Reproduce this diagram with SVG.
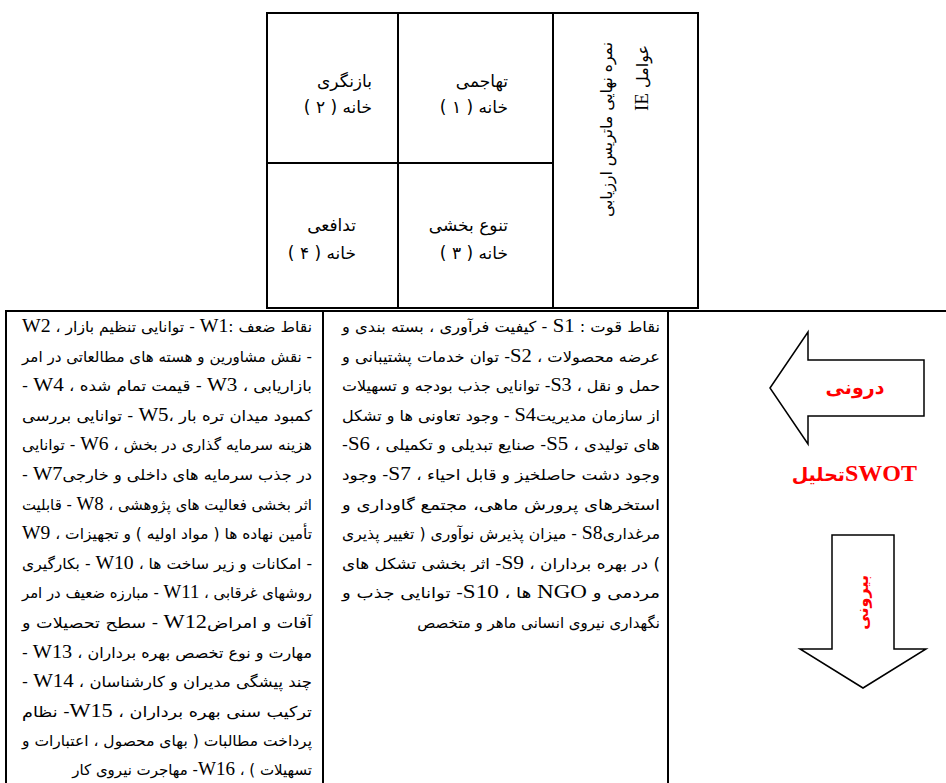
<svg xmlns="http://www.w3.org/2000/svg" width="946" height="783" viewBox="0 0 946 783">
<defs>
<style>
.b{fill:none;stroke:#000;stroke-width:2}
.ar{fill:#fff;stroke:#000;stroke-width:1.5}
.t{font-family:'DejaVu Sans','Noto Sans',sans-serif;font-size:15px;fill:#000;direction:rtl;text-anchor:start}
.c{font-family:'DejaVu Sans','Noto Sans',sans-serif;font-size:17px;fill:#000;direction:rtl;text-anchor:start}
.v{font-family:'DejaVu Sans','Noto Sans',sans-serif;font-size:16px;fill:#000;direction:rtl;text-anchor:start}
.l{font-family:'Liberation Serif',serif;font-size:19px}
.r{font-family:'DejaVu Sans','Noto Sans',sans-serif;font-weight:bold;fill:#f00;direction:rtl;text-anchor:start}
</style>
</defs>
<rect width="946" height="783" fill="#fff"/>

<g id="matrix">
  <rect class="b" x="267" y="13" width="431" height="295"/>
  <line class="b" x1="398" y1="13" x2="398" y2="308"/>
  <line class="b" x1="553" y1="13" x2="553" y2="308"/>
  <line class="b" x1="267" y1="163" x2="553" y2="163"/>
  <g id="cell-1">
    <text class="c" x="508" y="87">تهاجمی</text>
    <text class="c" x="508" y="113">خانه ( ۱ )</text>
  </g>
  <g id="cell-2">
    <text class="c" x="372" y="87">بازنگری</text>
    <text class="c" x="372" y="113">خانه ( ۲ )</text>
  </g>
  <g id="cell-3">
    <text class="c" x="508" y="231">تنوع بخشی</text>
    <text class="c" x="508" y="259">خانه ( ۳ )</text>
  </g>
  <g id="cell-4">
    <text class="c" x="356" y="231">تدافعی</text>
    <text class="c" x="356" y="259">خانه ( ۴ )</text>
  </g>
  <g id="ie-label">
    <text class="v" transform="translate(612,42) rotate(-90)" textLength="175" lengthAdjust="spacingAndGlyphs">نمره نهایی ماتریس ارزیابی</text>
    <text class="v" transform="translate(648,45) rotate(-90)">عوامل <tspan class="l" font-size="21">IE</tspan></text>
  </g>
</g>

<g id="swot-table">
  <line class="b" x1="5" y1="311" x2="946" y2="311"/>
  <line class="b" x1="6" y1="310" x2="6" y2="783"/>
  <line class="b" x1="323" y1="311" x2="323" y2="783"/>
  <line class="b" x1="668" y1="311" x2="668" y2="783"/>
</g>

<g id="weaknesses">
  <text class="t" x="312" y="332" textLength="290" lengthAdjust="spacingAndGlyphs">نقاط ضعف :<tspan class="l">W1</tspan>  - توانایی تنظیم بازار ، <tspan class="l">W2</tspan></text>
  <text class="t" x="312" y="361.6" textLength="290" lengthAdjust="spacingAndGlyphs">- نقش مشاورین و هسته های مطالعاتی در امر</text>
  <text class="t" x="312" y="391.2" textLength="290" lengthAdjust="spacingAndGlyphs">بازاریابی ، <tspan class="l">W3</tspan> - قیمت تمام شده ، <tspan class="l">W4</tspan> -</text>
  <text class="t" x="312" y="420.8" textLength="290" lengthAdjust="spacingAndGlyphs">کمبود میدان تره بار ،<tspan class="l">W5</tspan>  - توانایی بررسی</text>
  <text class="t" x="312" y="450.4" textLength="290" lengthAdjust="spacingAndGlyphs">هزینه سرمایه گذاری در بخش ، <tspan class="l">W6</tspan> - توانایی</text>
  <text class="t" x="312" y="480" textLength="290" lengthAdjust="spacingAndGlyphs">در جذب سرمایه های داخلی و خارجی<tspan class="l">W7</tspan> -</text>
  <text class="t" x="312" y="509.6" textLength="290" lengthAdjust="spacingAndGlyphs">اثر بخشی فعالیت های پژوهشی ، <tspan class="l">W8</tspan> - قابلیت</text>
  <text class="t" x="312" y="539.2" textLength="290" lengthAdjust="spacingAndGlyphs">تأمین نهاده ها ( مواد اولیه ) و تجهیزات ، <tspan class="l">W9</tspan></text>
  <text class="t" x="312" y="568.8" textLength="290" lengthAdjust="spacingAndGlyphs">- امکانات و زیر ساخت ها ، <tspan class="l">W10</tspan> - بکارگیری</text>
  <text class="t" x="312" y="598.4" textLength="290" lengthAdjust="spacingAndGlyphs">روشهای غرقابی ، <tspan class="l">W11</tspan> - مبارزه ضعیف در امر</text>
  <text class="t" x="312" y="628" textLength="290" lengthAdjust="spacingAndGlyphs">آفات و امراض<tspan class="l">W12</tspan> - سطح تحصیلات و</text>
  <text class="t" x="312" y="657.6" textLength="290" lengthAdjust="spacingAndGlyphs">مهارت و نوع تخصص بهره برداران ، <tspan class="l">W13</tspan> -</text>
  <text class="t" x="312" y="687.2" textLength="290" lengthAdjust="spacingAndGlyphs">چند پیشگی مدیران و کارشناسان ، <tspan class="l">W14</tspan> -</text>
  <text class="t" x="312" y="716.8" textLength="290" lengthAdjust="spacingAndGlyphs">ترکیب سنی بهره برداران ، <tspan class="l">W15</tspan>- نظام</text>
  <text class="t" x="312" y="746.4" textLength="290" lengthAdjust="spacingAndGlyphs">پرداخت مطالبات ( بهای محصول ، اعتبارات و</text>
  <text class="t" x="312" y="775">تسهیلات ) ، <tspan class="l">W16</tspan>- مهاجرت نیروی کار</text>
</g>

<g id="strengths">
  <text class="t" x="660" y="332" textLength="318" lengthAdjust="spacingAndGlyphs">نقاط قوت : <tspan class="l">S1</tspan> - کیفیت فرآوری ، بسته بندی و</text>
  <text class="t" x="660" y="361.6" textLength="318" lengthAdjust="spacingAndGlyphs">عرضه محصولات ، <tspan class="l">S2</tspan>- توان خدمات پشتیبانی و</text>
  <text class="t" x="660" y="391.2" textLength="318" lengthAdjust="spacingAndGlyphs">حمل و نقل ، <tspan class="l">S3</tspan>- توانایی جذب بودجه و تسهیلات</text>
  <text class="t" x="660" y="420.8" textLength="318" lengthAdjust="spacingAndGlyphs">از سازمان مدیریت<tspan class="l">S4</tspan> - وجود تعاونی ها و تشکل</text>
  <text class="t" x="660" y="450.4" textLength="318" lengthAdjust="spacingAndGlyphs">های تولیدی ، <tspan class="l">S5</tspan>- صنایع تبدیلی و تکمیلی ، <tspan class="l">S6</tspan>-</text>
  <text class="t" x="660" y="480" textLength="318" lengthAdjust="spacingAndGlyphs">وجود دشت حاصلخیز و قابل احیاء ، <tspan class="l">S7</tspan>- وجود</text>
  <text class="t" x="660" y="509.6" textLength="318" lengthAdjust="spacingAndGlyphs">استخرهای پرورش ماهی، مجتمع گاوداری و</text>
  <text class="t" x="660" y="539.2" textLength="318" lengthAdjust="spacingAndGlyphs">مرغداری<tspan class="l">S8</tspan> - میزان پذیرش نوآوری ( تغییر پذیری</text>
  <text class="t" x="660" y="568.8" textLength="318" lengthAdjust="spacingAndGlyphs">) در بهره برداران ، <tspan class="l">S9</tspan>- اثر بخشی تشکل های</text>
  <text class="t" x="660" y="598.4" textLength="318" lengthAdjust="spacingAndGlyphs">مردمی و <tspan class="l">NGO</tspan> ها ، <tspan class="l">S10</tspan>- توانایی جذب و</text>
  <text class="t" x="660" y="628">نگهداری نیروی انسانی ماهر و متخصص</text>
</g>

<g id="arrow-internal">
  <polygon class="ar" points="770,388 808,332 808,360 924,360 924,416 808,416 808,444"/>
  <text class="r" x="855" y="394" font-size="19" style="text-anchor:middle">درونی</text>
</g>

<g id="swot-label">
  <text class="r" x="917" y="481" font-size="19"><tspan font-family="'Liberation Serif',serif" font-size="24">SWOT</tspan>تحلیل</text>
</g>

<g id="arrow-external">
  <polygon class="ar" points="832,535 894,535 894,649 926,649 863,688 800,649 832,649"/>
  <text class="r" font-size="16" transform="translate(868,575) rotate(-90)">بیرونی</text>
</g>
</svg>
